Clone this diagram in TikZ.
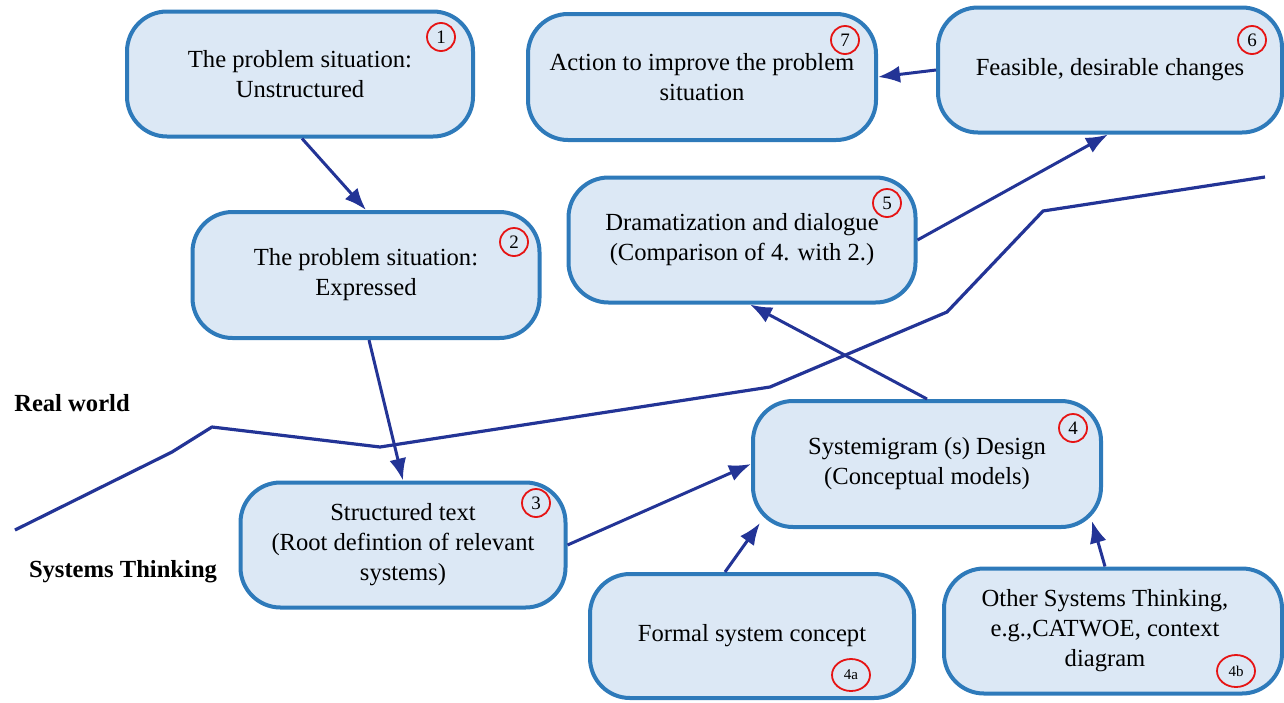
\documentclass[tikz,border=0pt]{standalone}
\usepackage{fontspec}
\setmainfont{Liberation Serif}
\usetikzlibrary{arrows.meta,shapes.geometric,calc}
\definecolor{boxfill}{RGB}{220,232,245}
\definecolor{boxline}{RGB}{46,122,186}
\definecolor{arrowc}{RGB}{35,52,150}
\definecolor{numred}{RGB}{230,20,20}
\tikzset{
  box/.style={draw=boxline, line width=2pt, fill=boxfill, rounded corners=20pt,
    align=center, inner sep=0pt, font=\fontsize{12.3}{15}\selectfont},
  numc/.style={circle, draw=numred, line width=0.9pt, minimum size=14pt, inner sep=0pt,
    font=\fontsize{9.5}{10}\selectfont},
  nume/.style={ellipse, draw=numred, line width=0.9pt, minimum width=19pt, minimum height=16pt, inner sep=0pt,
    font=\fontsize{7.5}{8}\selectfont},
  conn/.style={draw=arrowc, line width=1.5pt, -{Latex[length=11pt,width=8.5pt]}},
  border/.style={draw=arrowc, line width=1.6pt, line join=round},
  lab/.style={font=\fontsize{12.3}{15}\selectfont\bfseries, inner sep=0pt}
}
\begin{document}
\begin{tikzpicture}[x=0.5pt,y=-0.5pt]
\useasboundingbox (0,0) rectangle (1284,702);

% boxes
\node[box, minimum width=173pt, minimum height=62.5pt] (b1) at (300,74) {\raisebox{-1pt}{\parbox{170pt}{\centering The problem situation:\\Unstructured}}};
\node[box, minimum width=174pt, minimum height=63pt] (b7) at (702,77) {\raisebox{-1pt}{\parbox{170pt}{\centering Action to improve the problem\\situation}}};
\node[box, minimum width=172pt, minimum height=62.5pt] (b6) at (1110,70) {\raisebox{-1pt}{Feasible, desirable changes}};
\node[box, minimum width=173.5pt, minimum height=63pt] (b2) at (366,275) {\raisebox{-1pt}{\parbox{170pt}{\centering The problem situation:\\Expressed}}};
\node[box, minimum width=173.5pt, minimum height=62.5pt] (b5) at (742,240) {\raisebox{-1pt}{\parbox{170pt}{\centering Dramatization and dialogue\\(Comparison of 4. with 2.)}}};
\node[box, minimum width=174pt, minimum height=63pt] (b4) at (927,464) {\raisebox{-1pt}{\parbox{170pt}{\centering Systemigram (s) Design\\(Conceptual models)}}};
\node[box, minimum width=162.5pt, minimum height=62.5pt] (b3) at (403,545) {\raisebox{-1pt}{\parbox{160pt}{\centering Structured text\\(Root defintion of relevant\\systems)}}};
\node[box, minimum width=162pt, minimum height=62pt] (b4a) at (752,636) {\raisebox{-1pt}{Formal system concept}};
\node[box, minimum width=169pt, minimum height=62.5pt] (b4b) at (1113,631) {\raisebox{-1pt}{\parbox{160pt}{\centering\hspace*{-8pt}Other Systems Thinking,\\\hspace*{-8pt}e.g.,CATWOE, context\\\hspace*{-8pt}diagram}}};

% numbers
\node[numc] (n1) at (441,37) {1};
\node[numc] (n7) at (845,40) {7};
\node[numc] (n6) at (1252,40) {6};
\node[numc] (n2) at (514,242) {2};
\node[numc] (n5) at (887,203) {5};
\node[numc] (n3) at (536,503) {3};
\node[numc] (n4) at (1073,428) {4};
\node[nume] (n4a) at (851,675) {4a};
\node[nume] (n4b) at (1236,671) {4b};

% labels
\node[lab] (rw) at (72,403) {Real world};
\node[lab] (st) at (123,572) {Systems Thinking};

% boundary line
\coordinate (p1) at (15,530);
\coordinate (p2) at (172,452);
\coordinate (p3) at (212,427);
\coordinate (p4) at (380,447);
\coordinate (p5) at (770,387);
\coordinate (p6) at (947,312);
\coordinate (p7) at (1043,211);
\coordinate (p8) at (1265,177);
\draw[border] (p1) -- (p2) -- (p3) -- (p4) -- (p5) -- (p6) -- (p7) -- (p8);

% connectors
\draw[conn] ([xshift=1pt]b1.south) -- (b2.north);
\draw[conn] ([xshift=1.5pt]b2.south) -- (b3.north);
\draw[conn] (b3.east) -- (b4.west);
\draw[conn] (b4.north) -- ([xshift=4pt]b5.south);
\draw[conn] (b5.east) -- ([xshift=-1pt]b6.south);
\draw[conn] (b6.west) -- (b7.east);
\draw[conn] ([xshift=-13.5pt]b4a.north) -- ([shift={(4.5pt,3pt)}]b4.south west);
\draw[conn] ([xshift=-4pt]b4b.north) -- ([shift={(-5.5pt,4pt)}]b4.south east);
\end{tikzpicture}
\end{document}
